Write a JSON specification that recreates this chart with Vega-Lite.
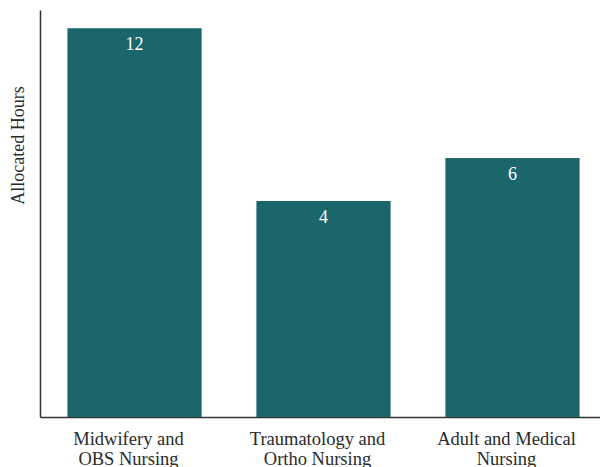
{
  "$schema": "https://vega.github.io/schema/vega-lite/v6.json",
  "autosize": "none",
  "padding": {"left": 40, "top": 10, "right": 0, "bottom": 50},
  "width": 567,
  "height": 407,
  "background": "white",
  "config": {
    "view": {"stroke": null},
    "font": "Liberation Serif"
  },
  "data": {
    "values": [
      {"area": "Midwifery and|OBS Nursing", "hours": 12},
      {"area": "Traumatology and|Ortho Nursing", "hours": 4},
      {"area": "Adult and Medical|Nursing", "hours": 6}
    ]
  },
  "encoding": {
    "x": {
      "field": "area",
      "type": "nominal",
      "sort": null,
      "scale": {"paddingInner": 0.29, "paddingOuter": 0.145},
      "axis": {
        "title": null,
        "labelAngle": 0,
        "labelExpr": "split(datum.label, '|')",
        "labelFont": "Liberation Serif",
        "labelFontSize": 18.5,
        "labelLineHeight": 20,
        "labelColor": "#2a2a2a",
        "labelPadding": 12,
        "labelOffset": -6,
        "ticks": false,
        "domainColor": "#333333",
        "domainWidth": 1.5,
        "labelLimit": 300
      }
    }
  },
  "layer": [
    {
      "mark": {"type": "bar", "color": "#1a666b"},
      "encoding": {
        "y": {
          "field": "hours",
          "type": "quantitative",
          "scale": {"domain": [-6, 12.85], "zero": false, "nice": false},
          "axis": {
            "title": "Allocated Hours",
            "titleFont": "Liberation Serif",
            "titleFontSize": 18,
            "titleFontWeight": "normal",
            "titleColor": "#2a2a2a",
            "titleX": -22,
            "titleY": 135,
            "titleAlign": "center",
            "titleBaseline": "middle",
            "labels": false,
            "ticks": false,
            "grid": false,
            "domainColor": "#333333",
            "domainWidth": 1.5
          }
        },
        "y2": {"datum": -6}
      }
    },
    {
      "mark": {
        "type": "text",
        "color": "white",
        "font": "Liberation Serif",
        "fontSize": 18,
        "baseline": "middle",
        "dy": 17
      },
      "encoding": {
        "y": {"field": "hours", "type": "quantitative"},
        "text": {"field": "hours", "type": "quantitative"}
      }
    }
  ]
}
